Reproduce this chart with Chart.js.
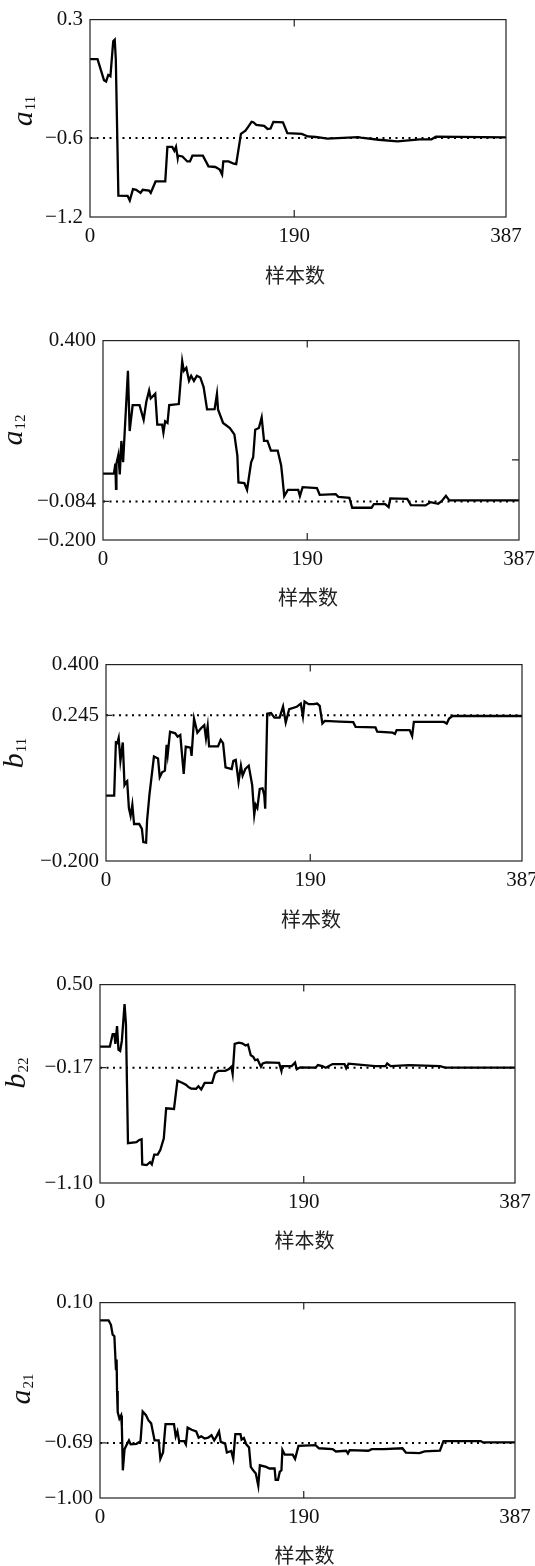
<!DOCTYPE html>
<html><head><meta charset="utf-8">
<script src="https://cdn.jsdelivr.net/npm/chart.js@4.4.1/dist/chart.umd.min.js"></script>
<style>
html,body{margin:0;padding:0;background:#fff;width:535px;height:1566px;overflow:hidden;position:relative}
canvas{position:absolute;left:0}
</style></head><body>
<script>
// ---------- data ----------
const xTicks = [0, 190, 387];
const xTickLabels = ['0', '190', '387'];
const xTitle = '样本数';

const a11 = [[0,0],[7,0],[10,-0.08],[13,-0.16],[15,-0.17],[17,-0.12],[19,-0.13],[21.6,0.135],[23,0.147],[24,0.0],[26.4,-1.037],[35,-1.04],[37,-1.074],[40,-0.988],[43,-0.993],[47,-1.017],[49,-0.993],[55,-1.0],[56.5,-1.017],[61,-0.93],[70,-0.93],[72,-0.667],[76.5,-0.667],[78.5,-0.697],[80,-0.667],[81.6,-0.753],[82,-0.734],[86,-0.74],[90.5,-0.778],[93,-0.778],[95.3,-0.734],[105,-0.734],[108.3,-0.785],[110.2,-0.815],[116.6,-0.82],[120.7,-0.84],[122.9,-0.877],[124,-0.778],[129,-0.778],[133.7,-0.795],[136,-0.798],[140.4,-0.568],[144.6,-0.544],[147.8,-0.507],[150.3,-0.477],[152,-0.48],[154.7,-0.5],[162,-0.507],[165.2,-0.531],[168,-0.528],[170.6,-0.477],[179.5,-0.48],[183.6,-0.563],[197,-0.568],[202.7,-0.588],[210,-0.592],[220.8,-0.605],[249.4,-0.593],[252,-0.597],[268.5,-0.613],[286,-0.625],[306.6,-0.61],[317.7,-0.61],[321.8,-0.59],[387,-0.595]];
const a11Ticks = [0.3, -0.6, -1.2];
const a11Labels = ['0.3', '\u22120.6', '\u22121.2'];
const a11Ref = -0.6;

const a12 = [[0,0],[10.2,0],[11.5,0.03],[12.1,-0.046],[12.5,0.03],[14.3,0.056],[15.6,-0.003],[17.1,0.098],[18.7,0.034],[23.2,0.309],[24.8,0.128],[27.6,0.206],[34,0.206],[37.8,0.162],[40.3,0.216],[42.9,0.25],[44.4,0.226],[48.6,0.24],[50.5,0.147],[55,0.147],[56.2,0.123],[57.8,0.157],[60,0.152],[61.6,0.206],[70.5,0.209],[73.7,0.338],[75.2,0.309],[77.5,0.318],[80,0.279],[82,0.294],[84.6,0.279],[87.3,0.294],[90.5,0.289],[93.6,0.26],[96.8,0.193],[103.8,0.194],[106,0.24],[107,0.193],[111.7,0.152],[118,0.137],[122.2,0.118],[125,0.054],[126,-0.027],[131.5,-0.029],[134,-0.049],[137.8,0.034],[139.7,0.049],[141.6,0.132],[145,0.137],[147.6,0.169],[149.8,0.098],[153,0.098],[156.2,0.069],[162.5,0.069],[165.7,0.025],[166.7,-0.005],[168.6,-0.068],[172,-0.049],[181.6,-0.049],[183.2,-0.068],[185.7,-0.041],[199,-0.044],[201.6,-0.064],[216.5,-0.062],[219,-0.07],[229.2,-0.073],[231.8,-0.103],[249.8,-0.103],[252,-0.092],[262.5,-0.092],[265.7,-0.101],[267.3,-0.075],[283,-0.076],[286.4,-0.095],[300,-0.096],[304.8,-0.086],[311.8,-0.091],[315,-0.083],[319,-0.067],[322.2,-0.081],[387,-0.081]];
const a12Ticks = [0.4, -0.084, -0.2];
const a12Labels = ['0.400', '\u22120.084', '\u22120.200'];
const a12Ref = -0.084;
const a12RightTick = 0.041;

const b11 = [[0,0],[7.6,0],[9.2,0.162],[10.5,0.16],[11.8,0.176],[13.4,0.106],[15.6,0.162],[17.2,0.032],[18.5,0.04],[19.7,0.044],[21.3,-0.038],[22.9,-0.062],[24.5,-0.028],[26.1,-0.087],[30.9,-0.087],[33.4,-0.102],[34.7,-0.142],[37.3,-0.144],[38.2,-0.077],[40.4,0.002],[44.6,0.119],[48.4,0.113],[50,0.056],[52.2,0.071],[54.8,0.076],[56.4,0.155],[57.4,0.125],[59.6,0.195],[64.4,0.19],[66.6,0.18],[69.1,0.185],[72.3,0.066],[74.2,0.149],[78.7,0.146],[79.6,0.121],[81.9,0.235],[85,0.192],[88.2,0.205],[91.4,0.215],[93,0.175],[94.6,0.212],[95.9,0.15],[104.2,0.15],[106.7,0.17],[108.9,0.16],[111.2,0.086],[116.9,0.081],[118.5,0.106],[120.7,0.109],[123.3,0.042],[125.5,0.091],[127.1,0.061],[129.6,0.081],[132.8,0.091],[136,0.032],[137.9,-0.059],[139.2,-0.028],[140.8,-0.038],[143,0.02],[145.6,0.022],[147.2,0.002],[148.1,-0.04],[150,0.25],[153.5,0.252],[156.7,0.238],[161.5,0.238],[164.7,0.272],[167.2,0.223],[170.4,0.264],[177.4,0.271],[181.2,0.281],[183.2,0.242],[184.7,0.287],[188.5,0.279],[193.3,0.279],[196.5,0.281],[198.8,0.274],[201.3,0.22],[203.5,0.228],[217.2,0.226],[230,0.224],[232.2,0.21],[250.7,0.208],[252.3,0.195],[266.6,0.192],[268.8,0.188],[270.4,0.2],[282.5,0.2],[284.8,0.182],[286.4,0.225],[314.4,0.225],[317,0.22],[319.2,0.235],[322.3,0.243],[387,0.243]];
const b11Ticks = [0.4, 0.245, -0.2];
const b11Labels = ['0.400', '0.245', '\u22120.200'];
const b11Ref = 0.245;

const b22 = [[0,0],[9.2,0],[11.8,0.1],[13.5,0.1],[14.3,0.022],[15.9,0.166],[17.2,-0.025],[18.8,-0.035],[20.4,0.048],[22.9,0.342],[24.2,0.18],[26.1,-0.779],[34,-0.771],[36.6,-0.753],[38.8,-0.748],[39.4,-0.95],[43.5,-0.955],[46.7,-0.932],[48.3,-0.95],[50.6,-0.871],[53.8,-0.871],[56.3,-0.832],[59.5,-0.74],[61.7,-0.498],[69,-0.503],[72.2,-0.275],[77,-0.293],[80.1,-0.307],[82.3,-0.325],[84.9,-0.338],[89.6,-0.341],[91.8,-0.32],[94.4,-0.346],[97.6,-0.293],[104.6,-0.293],[107.2,-0.215],[110.3,-0.196],[116.7,-0.196],[119.9,-0.183],[122.5,-0.162],[123.7,-0.22],[125.6,0.022],[129.4,0.032],[132.6,0.027],[135.8,0.009],[138,0.017],[140.6,-0.07],[142.9,-0.083],[144.7,-0.11],[146.9,-0.104],[150.1,-0.162],[151.7,-0.136],[154.9,-0.128],[167,-0.131],[169.2,-0.196],[170,-0.157],[178.8,-0.157],[181.9,-0.128],[183.5,-0.183],[186.7,-0.167],[201,-0.17],[203.2,-0.149],[207.3,-0.157],[210.5,-0.17],[216.9,-0.141],[228,-0.141],[229.6,-0.175],[231.8,-0.138],[256.6,-0.157],[266.2,-0.157],[267.8,-0.136],[271,-0.157],[288.4,-0.149],[317,-0.157],[322,-0.17],[387,-0.17]];
const b22Ticks = [0.5, -0.17, -1.1];
const b22Labels = ['0.50', '\u22120.17', '\u22121.10'];
const b22Ref = -0.17;

const a21 = [[0,0],[8,0],[10.2,-0.025],[11.8,-0.08],[13.4,-0.089],[14.9,-0.28],[15.5,-0.22],[15.9,-0.398],[16.5,-0.516],[18.1,-0.553],[19.7,-0.535],[20.4,-0.6],[21.3,-0.844],[22.9,-0.725],[25.1,-0.698],[27,-0.676],[28.6,-0.698],[34,-0.695],[37.8,-0.68],[39.8,-0.513],[42.9,-0.534],[45.1,-0.562],[47.7,-0.58],[50.9,-0.676],[54.7,-0.676],[56.3,-0.78],[58.8,-0.744],[61.1,-0.584],[69,-0.584],[70.6,-0.653],[72.2,-0.625],[73.8,-0.68],[78.5,-0.68],[80.1,-0.698],[81.7,-0.604],[85.5,-0.616],[89.7,-0.625],[92,-0.66],[94.4,-0.653],[97.6,-0.665],[100.8,-0.66],[104,-0.647],[106.5,-0.676],[108.7,-0.653],[111,-0.625],[112.6,-0.684],[116.7,-0.694],[118.3,-0.744],[122.4,-0.735],[124.3,-0.78],[126.2,-0.64],[131,-0.64],[132,-0.671],[134.2,-0.662],[136.4,-0.698],[139,-0.716],[140.6,-0.825],[142.8,-0.844],[145.3,-0.862],[147.6,-0.931],[149.1,-0.816],[154.9,-0.825],[158,-0.834],[162.8,-0.834],[163.8,-0.898],[166,-0.898],[167.6,-0.853],[169.2,-0.844],[170.1,-0.729],[172.4,-0.756],[179.7,-0.756],[181.9,-0.78],[185.1,-0.707],[201,-0.702],[204.2,-0.72],[216.9,-0.725],[220,-0.738],[229.6,-0.734],[231.2,-0.749],[232.8,-0.731],[250.3,-0.734],[253.4,-0.725],[264.5,-0.725],[282,-0.72],[285.2,-0.744],[298,-0.747],[302.7,-0.738],[317,-0.734],[320.3,-0.68],[355.2,-0.68],[357,-0.687],[387,-0.687]];
const a21Ticks = [0.1, -0.69, -1.0];
const a21Labels = ['0.10', '\u22120.69', '\u22121.00'];
const a21Ref = -0.69;

// ---------- layout (pixels) ----------
const panels = [
  {data:a11, ticks:a11Ticks, labels:a11Labels, ref:a11Ref, sym:'a', sub:'11', L:90,  R:506, T:15,   B:217,  tbx:32, tcy:111,  xty:275},
  {data:a12, ticks:a12Ticks, labels:a12Labels, ref:a12Ref, sym:'a', sub:'12', L:103, R:519, T:336,  B:540,  tbx:22, tcy:430,  xty:597, rightTick:a12RightTick},
  {data:b11, ticks:b11Ticks, labels:b11Labels, ref:b11Ref, sym:'b', sub:'11', L:106, R:522, T:660,  B:861,  tbx:23, tcy:753,  xty:919},
  {data:b22, ticks:b22Ticks, labels:b22Labels, ref:b22Ref, sym:'b', sub:'22', L:100, R:515, T:980,  B:1183, tbx:25, tcy:1073, xty:1240},
  {data:a21, ticks:a21Ticks, labels:a21Labels, ref:a21Ref, sym:'a', sub:'21', L:100, R:515, T:1298, B:1498, tbx:30, tcy:1389, xty:1555}
];

const CW = 620;
const TICK_FONT = {family:'"Liberation Serif","Times New Roman",serif', size:21};

const framePlugin = {
  id:'frame',
  afterDraw(chart){
    const p = chart.options.plugins.frame;
    const {ctx, chartArea:a, scales:{x, y}} = chart;
    ctx.save();
    ctx.strokeStyle = '#222'; ctx.lineWidth = 1.2;
    ctx.strokeRect(a.left, a.top, a.right - a.left, a.bottom - a.top);
    ctx.beginPath();
    const tx = x.getPixelForValue(xTicks[1]);
    ctx.moveTo(tx, a.top); ctx.lineTo(tx, a.top + 7);
    ctx.moveTo(tx, a.bottom); ctx.lineTo(tx, a.bottom - 7);
    const ty = y.getPixelForValue(p.mid);
    ctx.moveTo(a.left, ty); ctx.lineTo(a.left + 6, ty);
    if (p.rightTick != null) {
      const ry = y.getPixelForValue(p.rightTick);
      ctx.moveTo(a.right, ry); ctx.lineTo(a.right - 7, ry);
    }
    ctx.stroke();
    // y title with subscript
    ctx.fillStyle = '#111';
    ctx.translate(p.tbx, p.tcy);
    ctx.rotate(-Math.PI / 2);
    ctx.textBaseline = 'alphabetic';
    ctx.textAlign = 'left';
    const mainFont = 'italic 30px "Liberation Serif","Times New Roman",serif';
    const subFont = '15px "Liberation Serif","Times New Roman",serif';
    ctx.font = mainFont; const wm = ctx.measureText(p.sym).width;
    ctx.font = subFont; const ws = ctx.measureText(p.sub).width;
    const x0 = -(wm + ws + 1) / 2;
    ctx.font = mainFont; ctx.fillText(p.sym, x0, 0);
    ctx.font = subFont; ctx.fillText(p.sub, x0 + wm + 1, 3);
    ctx.restore();
    // x title
    ctx.save();
    ctx.fillStyle = '#222';
    ctx.font = '20px "Noto Sans CJK SC","Noto Sans CJK JP",sans-serif';
    ctx.textAlign = 'center'; ctx.textBaseline = 'middle';
    ctx.fillText(xTitle, (a.left + a.right) / 2 - 3, p.xty);
    ctx.restore();
  }
};

panels.forEach((p, i) => {
  const top = p.T - 15;
  const bottom = p.xty + 22;
  const H = bottom - top;
  const cv = document.createElement('canvas');
  cv.width = CW; cv.height = H;
  cv.style.top = top + 'px';
  cv.style.width = CW + 'px'; cv.style.height = H + 'px';
  document.body.appendChild(cv);
  new Chart(cv.getContext('2d'), {
    type: 'line',
    data: {
      datasets: [
        {data: p.data.map(d => ({x:d[0], y:d[1]})), borderColor:'#000', borderWidth:2.3, pointRadius:0, tension:0, fill:false, borderJoinStyle:'miter'},
        {data: [{x:xTicks[0], y:p.ref}, {x:xTicks[2], y:p.ref}], borderColor:'#000', borderWidth:2, borderDash:[2,4.5], pointRadius:0, fill:false}
      ]
    },
    options: {
      responsive:false, animation:false, devicePixelRatio:1,
      layout: {padding: {top:15, left:0, right:CW - p.R, bottom:0}},
      plugins: {legend:{display:false}, tooltip:{enabled:false},
        frame: {mid:p.ticks[1], rightTick:p.rightTick, sym:p.sym, sub:p.sub, tbx:p.tbx, tcy:p.tcy - top, xty:p.xty - top}},
      scales: {
        x: {
          type:'linear', min:xTicks[0], max:xTicks[2],
          grid:{display:false, drawTicks:false}, border:{display:false},
          afterBuildTicks: s => { s.ticks = xTicks.map(v => ({value:v})); },
          afterFit: s => { s.height = H - 15 - (p.B - p.T); },
          ticks: {autoSkip:false, maxRotation:0, padding:7, color:'#111', font:TICK_FONT,
                  callback: (v, idx) => xTickLabels[idx]}
        },
        y: {
          type:'linear', min:p.ticks[2], max:p.ticks[0],
          grid:{display:false, drawTicks:false}, border:{display:false},
          afterBuildTicks: s => { s.ticks = [...p.ticks].reverse().map(v => ({value:v})); },
          afterFit: s => { s.width = p.L; },
          ticks: {autoSkip:false, padding:7, color:'#111', font:TICK_FONT,
                  callback: (v, idx) => [...p.labels].reverse()[idx]}
        }
      }
    },
    plugins: [framePlugin]
  });
});
</script>
</body></html>
